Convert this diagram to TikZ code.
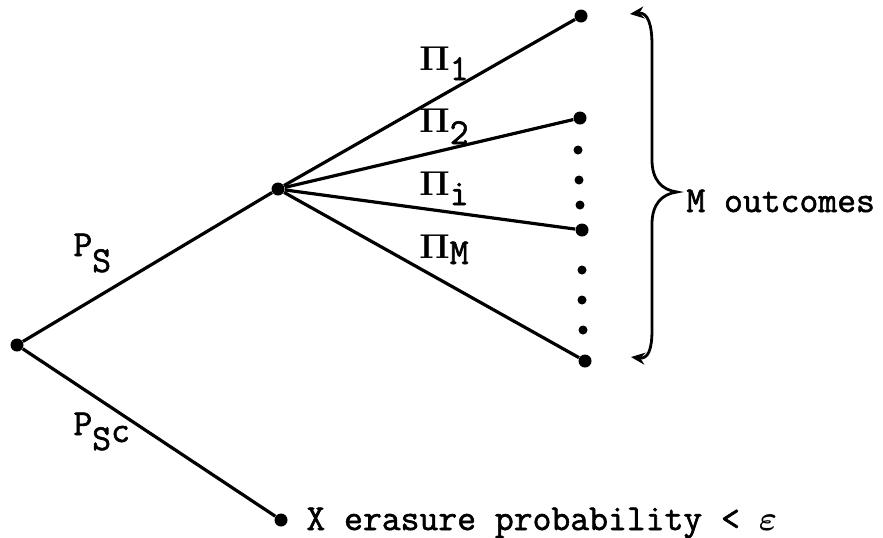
\documentclass[tikz,border=0pt]{standalone}
\usepackage{amsmath}
\usepackage{fontspec}
\newfontfamily\tw{Latin Modern Mono}[FakeBold=1.6]
\usetikzlibrary{arrows.meta}
\tikzset{
  dot/.style={circle,fill=black,inner sep=0pt,minimum size=6.5pt},
  smalldot/.style={circle,fill=black,inner sep=0pt,minimum size=4.5pt},
  branch/.style={line width=1.6pt},
  lbl/.style={anchor=base west,inner sep=0pt,font=\tw\fontsize{18.3}{22}\selectfont},
}
\newcommand{\Pisym}{$\boldsymbol{\Pi}$}
\begin{document}
\begin{tikzpicture}[x=0.5pt,y=-0.5pt]
\useasboundingbox (0,0) rectangle (883,537);
% nodes
\node[dot] (root) at (17,345) {};
\node[dot] (mid) at (278,189) {};
\node[dot] (l1) at (581,16) {};
\node[dot] (l2) at (580,118) {};
\node[dot] (li) at (582,230) {};
\node[dot] (lM) at (585,361) {};
\node[dot] (er) at (281,520) {};
% dots between leaves
\node[smalldot] (d1) at (578,150) {};
\node[smalldot] (d2) at (579,180) {};
\node[smalldot] (d3) at (580,205) {};
\node[smalldot] (d4) at (582,270) {};
\node[smalldot] (d5) at (582,300) {};
\node[smalldot] (d6) at (583,330) {};
% branches
\draw[branch] (root) -- (mid);
\draw[branch] (root) -- (er);
\draw[branch] (mid) -- (l1);
\draw[branch] (mid) -- (l2);
\draw[branch] (mid) -- (li);
\draw[branch] (mid) -- (lM);
% labels
\node[lbl] (pi1) at (419,70) {\Pisym\raisebox{-5pt}{1}};
\node[lbl] (pi2) at (419,132) {\Pisym\raisebox{-6pt}{2}};
\node[lbl] (pii) at (419,195) {\Pisym\raisebox{-5pt}{i}};
\node[lbl] (piM) at (419,258) {\Pisym\raisebox{-3pt}{M}};
\node[lbl] (ps) at (73,256) {P\raisebox{-8pt}{S}};
\node[lbl] (psc) at (73,435) {P\raisebox{-7.5pt}{S\raisebox{4pt}{c}}};
\node[lbl] (erase) at (306,530) {X erasure probability < $\boldsymbol{\varepsilon}$};
% brace
\coordinate (bt) at (630,14);
\coordinate (bm) at (677,192);
\coordinate (bb) at (631,357);
\draw[line width=1.4pt,{Stealth[length=7pt,width=6pt]}-{Stealth[length=7pt,width=6pt]}]
  (bt) .. controls (648,12) and (652,25) .. (652,45) -- (652,160)
  .. controls (652,180) and (662,190) .. (bm)
  .. controls (662,194) and (652,204) .. (652,224) -- (652,330)
  .. controls (652,350) and (648,359) .. (bb);
\node[lbl] (mout) at (686,212) {M outcomes};
\end{tikzpicture}
\end{document}
